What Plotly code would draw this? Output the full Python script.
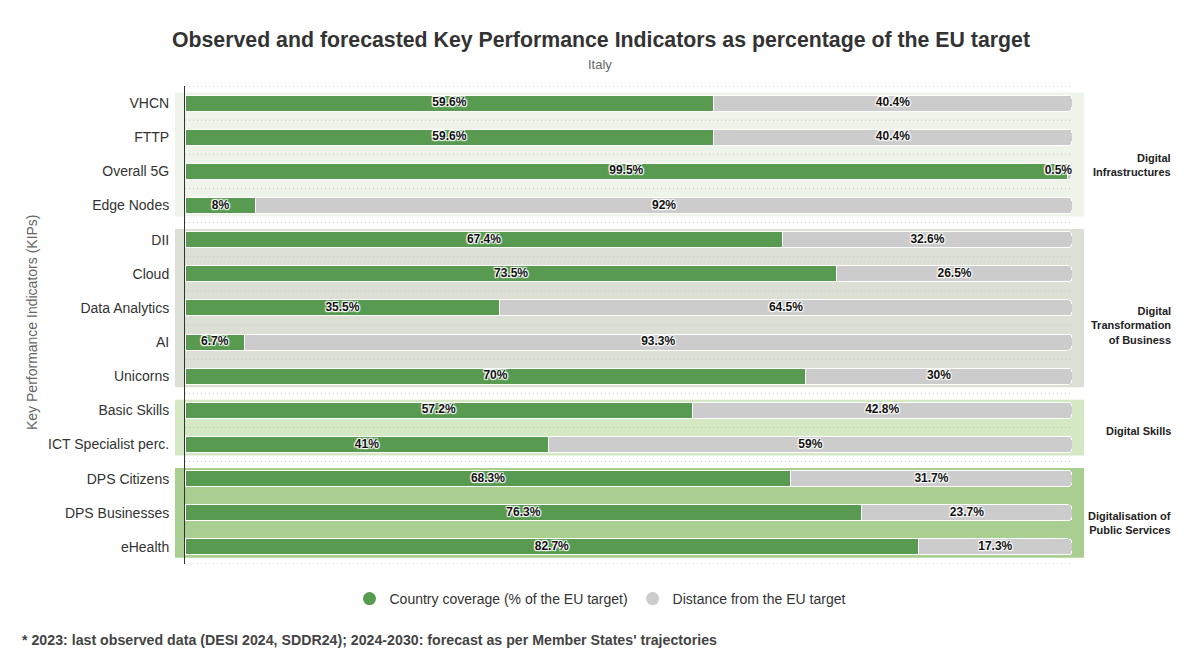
import plotly.graph_objects as go

categories = ["VHCN", "FTTP", "Overall 5G", "Edge Nodes", "DII", "Cloud", "Data Analytics",
              "AI", "Unicorns", "Basic Skills", "ICT Specialist perc.", "DPS Citizens",
              "DPS Businesses", "eHealth"]
coverage = [59.6, 59.6, 99.5, 8, 67.4, 73.5, 35.5, 6.7, 70, 57.2, 41, 68.3, 76.3, 82.7]
distance = [40.4, 40.4, 0.5, 92, 32.6, 26.5, 64.5, 93.3, 30, 42.8, 59, 31.7, 23.7, 17.3]

group_names = ["Digital<br>Infrastructures", "Digital<br>Transformation<br>of Business",
               "Digital Skills", "Digitalisation of<br>Public Services"]
group_first = [0, 4, 9, 11]
group_last = [3, 8, 10, 13]

GREEN = "#589a4f"
GRAY = "#cccccc"
band_colors = ["#eff4ea", "#dcdfd4", "#d4e8c4", "#a9ce92"]
label_offsets = [0.3, 0.5, 0.1, 0.3]

W, H = 1200, 654
OFF = 8  # page body margin offset
PL, PR, PT, PB = 185 - OFF, 1072 - OFF, 86 - OFF, 564 - OFF

n = len(categories)
ypos = list(range(n))
fig = go.Figure()

fig.add_trace(go.Bar(y=ypos, x=coverage, orientation="h", marker=dict(color=GREEN, line=dict(color="white", width=1)),
                     width=0.47, showlegend=False, hoverinfo="skip"))
fig.add_trace(go.Bar(y=ypos, x=distance, orientation="h", marker=dict(color=GRAY, line=dict(color="white", width=1)),
                     width=0.47, showlegend=False, hoverinfo="skip"))

shadow = "1px 1px 1px #fff, -1px -1px 1px #fff, 1px -1px 1px #fff, -1px 1px 1px #fff, 0px 0px 2px #fff"
lab_x, lab_y, lab_t, lab_p = [], [], [], []
for i in range(n):
    c, d = coverage[i], distance[i]
    for start, val in ((0, c), (c, d)):
        t = f"{val:g}%"
        if val < 3:
            lab_x.append(start + val); lab_p.append("middle left")
        else:
            lab_x.append(start + val / 2); lab_p.append("middle center")
        lab_y.append(i); lab_t.append(t)
fig.add_trace(go.Scatter(x=lab_x, y=lab_y, text=lab_t, mode="text", textposition=lab_p,
                         textfont=dict(family="Liberation Sans, Arial", size=12, color="#111", weight="bold", shadow=shadow),
                         showlegend=False, hoverinfo="skip"))

fig.add_trace(go.Scatter(x=[None], y=[None], mode="markers", name="Country coverage (% of the EU target)",
                         marker=dict(color=GREEN, size=13, symbol="circle")))
fig.add_trace(go.Scatter(x=[None], y=[None], mode="markers", name="Distance from the EU target",
                         marker=dict(color=GRAY, size=13, symbol="circle")))

pw, ph = PR - PL, PB - PT
def px_x(x):  # screenshot pixel -> paper x
    return (x - OFF - PL) / pw
def px_y(y):  # screenshot pixel -> paper y
    return (PB - (y - OFF)) / ph

shapes = []
for g in range(len(group_names)):
    shapes.append(dict(type="rect", xref="paper", yref="y", x0=px_x(175), x1=px_x(1084),
                       y0=group_first[g] - 0.31, y1=group_last[g] + 0.32,
                       fillcolor=band_colors[g], line=dict(width=0), layer="below"))
for k in range(n + 1):
    shapes.append(dict(type="line", xref="paper", yref="y", x0=0, x1=1, y0=k - 0.5, y1=k - 0.5,
                       line=dict(color="#c4c4c4", width=1, dash="1px,3px"), layer="below"))

font = "Liberation Sans, Arial"
annotations = []
for g in range(len(group_names)):
    mid = (group_first[g] + group_last[g]) / 2 + label_offsets[g]
    annotations.append(dict(text=group_names[g], xref="paper", yref="y", x=px_x(1173), y=mid,
                            xanchor="right", yanchor="middle", align="right", showarrow=False,
                            font=dict(family=font, size=11, color="#222", weight="bold")))
annotations.append(dict(text="Key Performance Indicators (KIPs)", xref="paper", yref="paper",
                        x=px_x(32), y=px_y(322), textangle=-90, showarrow=False,
                        xanchor="center", yanchor="middle",
                        font=dict(family=font, size=14, color="#666")))
annotations.append(dict(text="Italy", xref="paper", yref="paper", x=px_x(600),
                        y=px_y(64), showarrow=False, xanchor="center", yanchor="middle",
                        font=dict(family=font, size=13, color="#666")))
annotations.append(dict(text="* 2023: last observed data (DESI 2024, SDDR24); 2024-2030: forecast as per Member States' trajectories",
                        xref="paper", yref="paper", x=px_x(20), y=px_y(640),
                        showarrow=False, xanchor="left", yanchor="middle",
                        font=dict(family=font, size=14.2, color="#444", weight="bold")))

fig.update_layout(
    width=W, height=H,
    margin=dict(l=PL, r=W - PR, t=PT, b=H - PB, autoexpand=False),
    paper_bgcolor="white", plot_bgcolor="rgba(0,0,0,0)",
    barmode="stack", bargap=0.53, barcornerradius=4,
    title=dict(text="Observed and forecasted Key Performance Indicators as percentage of the EU target",
               x=(601 - OFF) / W, xref="container", xanchor="center", y=1 - (40 - OFF) / H, yref="container",
               yanchor="middle",
               font=dict(family=font, size=21.3, color="#333", weight="bold")),
    xaxis=dict(range=[0, 100], visible=False, fixedrange=True),
    yaxis=dict(range=[n - 0.5, -0.5], tickvals=ypos, ticktext=categories, showgrid=False, zeroline=False,
               showline=True, linecolor="#333", linewidth=1, ticks="", ticklabelstandoff=12, automargin=False,
               tickfont=dict(family=font, size=14, color="#333")),
    legend=dict(orientation="h", xref="container", x=(600 - OFF) / W, xanchor="center", yref="container",
                y=1 - (599 - OFF) / H, yanchor="middle", traceorder="normal",
                font=dict(family=font, size=14, color="#333")),
    shapes=shapes, annotations=annotations, showlegend=True,
)

fig.write_html("out.html")
